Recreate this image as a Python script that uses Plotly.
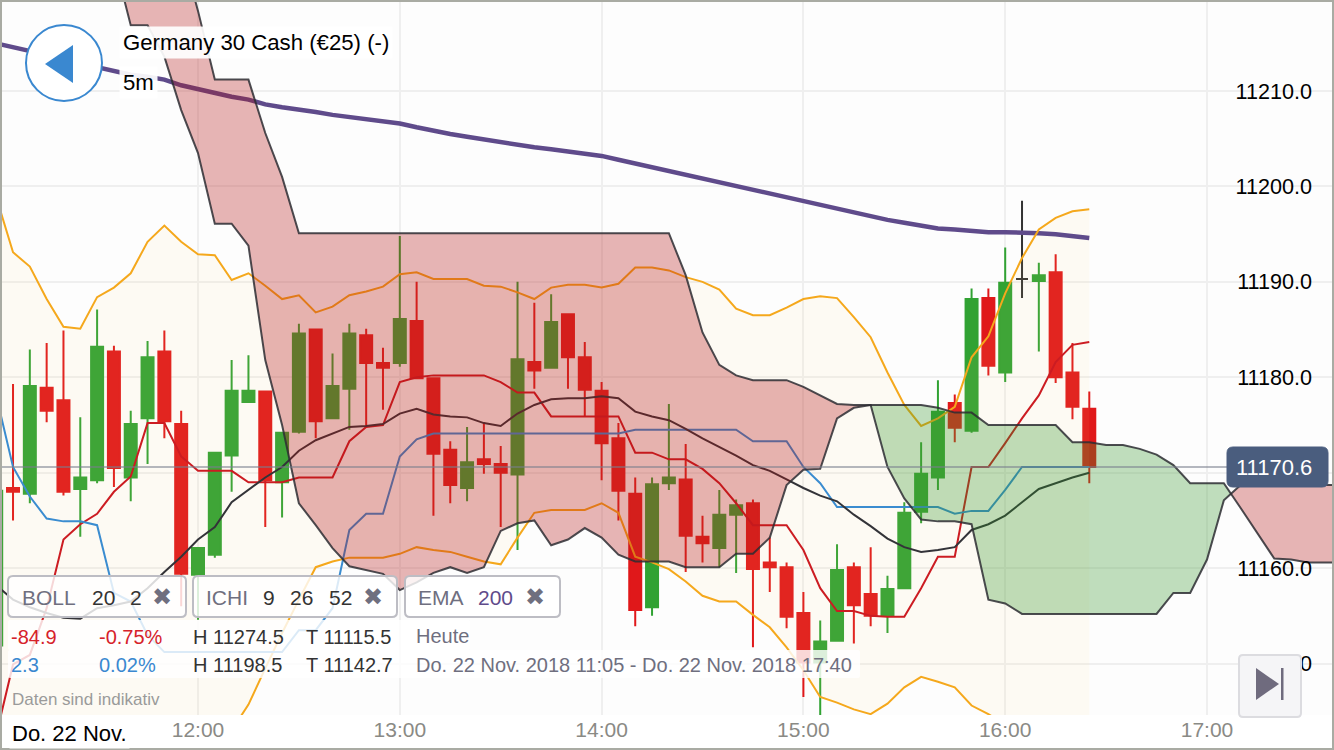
import pandas as pd
import plotly.graph_objects as go

# ---------- data ----------
first_candle_minute = 11 * 60 + 0   # 5 minute bars, first bar partly cut by the left edge
last_price = 11170.6

bar_open = [11151.9,11168.4,11167.8,11178.9,11177.6,11168.3,11169.2,11182.7,11169.5,11175.7,11182.7,11175.1,11159.3,11161.4,11171.8,11177.4,
            11178.5,11169.0,11174.3,11185.0,11175.7,11178.8,11184.4,11181.5,11181.5,11185.9,11179.9,11172.4,11168.4,11171.4,11170.9,11169.8,
            11181.6,11181.0,11186.6,11182.1,11178.6,11173.6,11167.8,11155.9,11168.9,11169.3,11163.3,11162.1,11165.6,11166.8,11160.6,11160.1,
            11155.3,11150.1,11152.4,11160.1,11157.3,11155.0,11157.9,11165.9,11169.5,11177.3,11174.4,11188.3,11180.5,11190.3,11190.1,11191.0,11180.5,11176.7]
bar_high = [11168.1,11179.3,11182.9,11183.6,11184.9,11175.8,11187.1,11183.3,11176.5,11183.8,11184.9,11176.5,11162.1,11172.1,11181.8,11182.3,
            11178.6,11174.2,11185.6,11185.0,11182.5,11185.6,11185.1,11183.1,11194.8,11190.0,11180.0,11173.3,11174.8,11175.2,11172.8,11190.0,
            11187.8,11188.7,11186.7,11183.7,11179.5,11175.2,11169.5,11169.5,11177.2,11173.0,11165.5,11168.2,11167.2,11167.2,11163.2,11160.6,
            11157.5,11154.5,11162.5,11160.6,11162.2,11159.2,11166.9,11173.2,11179.7,11178.2,11189.3,11189.3,11193.6,11198.5,11192.0,11192.9,11183.6,11178.5]
bar_low = [11151.9,11165.0,11166.8,11175.3,11167.6,11163.3,11168.9,11168.5,11167.0,11170.9,11173.6,11156.0,11154.6,11161.1,11168.0,11177.4,
           11164.3,11165.3,11174.1,11173.6,11175.7,11174.5,11174.7,11176.6,11181.1,11179.9,11165.5,11166.8,11167.0,11169.9,11164.3,11161.9,
           11178.8,11181.0,11178.8,11175.9,11169.2,11165.0,11153.9,11155.0,11168.2,11159.6,11160.6,11160.1,11159.5,11151.7,11157.5,11153.7,
           11146.5,11143.6,11152.4,11152.1,11153.9,11153.2,11157.9,11164.7,11168.2,11173.2,11174.2,11180.2,11179.5,11188.3,11182.7,11179.4,11175.6,11168.9]
bar_close = [11168.1,11168.0,11179.1,11176.5,11168.0,11169.5,11183.2,11170.5,11175.1,11182.1,11175.4,11159.4,11162.1,11172.1,11178.6,11178.6,
             11169.2,11174.2,11184.6,11175.4,11179.1,11184.6,11181.5,11181.0,11186.1,11179.9,11172.0,11168.7,11171.1,11170.9,11170.0,11181.9,
             11180.7,11185.8,11182.1,11178.7,11173.1,11168.1,11155.6,11168.8,11169.5,11163.4,11162.6,11165.6,11166.6,11159.9,11160.1,11154.9,
             11150.1,11152.3,11159.8,11156.1,11155.0,11157.8,11165.8,11169.9,11176.4,11174.7,11188.2,11181.2,11189.9,11190.3,11190.7,11180.0,11176.9,11170.6]

ema_200 = [11215.0,11214.6,11214.3,11213.9,11213.4,11212.9,11212.5,11212.1,11211.7,11211.5,11211.2,11210.6,11210.2,11209.7,11209.4,11209.1,
           11208.6,11208.3,11208.1,11207.8,11207.5,11207.3,11207.0,11206.8,11206.6,11206.2,11205.8,11205.5,11205.2,11204.9,11204.6,11204.3,
           11204.1,11203.9,11203.7,11203.5,11203.2,11202.8,11202.4,11202.0,11201.6,11201.2,11200.8,11200.5,11200.1,11199.7,11199.2,11198.8,
           11198.4,11198.0,11197.6,11197.2,11196.8,11196.5,11196.2,11195.9,11195.6,11195.5,11195.3,11195.2,11195.2,11195.2,11195.1,11195.0,11194.8,11194.6]
boll_upper = [11198.9,11193.1,11191.6,11188.2,11185.3,11185.1,11188.4,11189.4,11190.9,11194.2,11195.9,11194.2,11192.9,11192.8,11190.2,11190.9,
              11189.6,11188.2,11188.6,11186.8,11187.4,11188.6,11189.0,11189.5,11190.8,11191.0,11190.3,11190.3,11190.3,11189.6,11189.5,11188.9,
              11188.2,11189.4,11189.7,11189.7,11189.4,11189.8,11191.5,11191.5,11191.2,11190.5,11190.0,11189.2,11187.2,11186.5,11186.5,11187.3,
              11188.2,11188.5,11188.3,11186.3,11184.2,11180.5,11177.1,11174.9,11175.7,11176.9,11182.1,11184.3,11188.8,11192.5,11195.5,11196.7,11197.4,11197.6]
boll_lower = [11135.7,11136.8,11137.3,11137.8,11138.0,11138.3,11138.6,11139.0,11139.4,11139.7,11140.1,11140.4,11140.9,11141.5,11143.0,11145.7,
              11149.5,11153.2,11156.7,11160.1,11160.7,11161.1,11161.1,11161.1,11161.5,11162.2,11161.9,11161.7,11161.2,11160.7,11160.4,11163.2,
              11165.8,11166.1,11166.1,11166.1,11166.8,11165.8,11161.2,11160.6,11159.9,11158.6,11157.1,11156.5,11156.5,11155.1,11153.8,11151.7,
              11149.3,11146.5,11145.9,11145.2,11144.7,11145.8,11147.5,11148.6,11148.1,11147.5,11145.6,11144.7,11143.6,11142.2,11141.2,11140.2,11139.4,11138.6]
tenkan = [11142.5,11149.9,11150.9,11155.8,11163.0,11164.6,11165.7,11168.0,11169.6,11175.2,11175.2,11171.7,11170.2,11170.2,11170.2,11169.0,
          11169.0,11169.0,11169.5,11169.5,11169.5,11173.3,11174.8,11175.0,11179.5,11180.0,11180.2,11180.2,11180.2,11180.2,11179.5,11178.4,
          11178.4,11175.9,11175.9,11175.9,11175.9,11175.9,11172.1,11172.1,11171.4,11171.4,11170.4,11168.9,11166.8,11164.5,11164.5,11164.5,
          11161.9,11157.9,11155.5,11155.5,11155.0,11154.9,11154.9,11157.9,11161.2,11161.2,11170.6,11170.6,11173.1,11175.7,11178.1,11181.6,11183.4,11183.7]
kijun = [11178.1,11170.6,11167.5,11165.2,11164.9,11164.9,11164.5,11157.4,11156.5,11153.0,11151.2,11151.2,11151.2,11151.2,11151.2,11151.2,
         11151.2,11151.2,11153.5,11153.5,11155.8,11164.0,11165.7,11165.7,11171.7,11173.5,11174.1,11174.1,11174.1,11174.1,11174.1,11174.1,
         11174.1,11174.1,11174.1,11174.1,11174.1,11174.1,11174.5,11174.5,11174.5,11174.5,11174.5,11174.5,11174.5,11173.3,11173.3,11173.3,
         11170.6,11168.9,11166.4,11166.4,11166.4,11166.4,11166.4,11166.4,11166.4,11165.7,11166.0,11166.0,11168.2,11170.6,11170.6,11170.6,11170.6,11170.6]
chikou = [11158.2,11156.7,11155.9,11155.3,11154.8,11154.7,11155.8,11156.1,11156.5,11157.9,11159.6,11161.2,11163.0,11164.3,11166.9,11168.2,
          11169.5,11170.6,11172.3,11173.4,11174.1,11174.8,11174.9,11175.1,11176.2,11176.7,11176.1,11175.9,11175.8,11175.2,11174.9,11176.2,
          11177.1,11177.7,11177.8,11177.8,11178.0,11177.8,11176.4,11175.9,11175.5,11174.6,11173.6,11172.7,11171.8,11170.8,11170.2,11169.3,
          11168.4,11167.6,11167.0,11165.6,11164.4,11163.1,11162.2,11161.7,11161.9,11162.2,11164.0,11164.6,11165.5,11166.9,11168.3,11168.9,11169.5,11170.0]

cloud_first_minute = 11 * 60 + 35
span_a = [11223.8,11216.9,11216.9,11213.6,11208.0,11203.5,11196.1,11196.1,11193.8,11181.8,11175.0,
          11166.8,11164.5,11162.1,11160.2,11159.8,11159.4,11157.7,11158.5,11159.5,11160.1,11159.5,11160.1,
          11163.9,11164.7,11165.0,11162.4,11163.0,11164.2,11163.2,11161.4,11160.7,11160.7,11160.7,
          11160.1,11160.1,11160.1,11161.5,11161.5,11163.2,11168.7,11170.3,11170.4,11175.7,11176.8,11177.1,11177.1,11177.1,11177.1,
          11176.8,11176.3,11176.3,11175.0,11175.0,11175.0,11175.0,11175.0,11173.2,11173.2,11172.9,11172.9,11172.5,11171.9,11170.8,
          11168.9,11168.9,11168.9,11166.3,11163.6,11161.0,11160.9,11160.6,11160.6,11160.6]
span_b = [11237.4,11234.2,11231.6,11229.0,11224.8,11218.4,11211.2,11211.2,11211.2,11205.6,11201.0,
          11195.1,11195.1,11195.1,11195.1,11195.1,11195.1,11195.1,11195.1,11195.1,11195.1,11195.1,11195.1,
          11195.1,11195.1,11195.1,11195.1,11195.1,11195.1,11195.1,11195.1,11195.1,11195.1,11195.1,
          11190.7,11184.7,11181.3,11180.2,11179.7,11179.7,11179.7,11179.0,11178.1,11177.2,11177.1,11177.1,11170.6,11167.3,11165.1,
          11164.9,11164.9,11164.6,11156.7,11156.3,11155.2,11155.2,11155.2,11155.2,11155.2,11155.2,11155.2,11155.2,11155.2,11157.4,
          11157.4,11160.9,11167.1,11168.7,11168.7,11168.7,11168.7,11168.7,11168.7,11168.7]

y_ticks = [11150, 11160, 11170, 11180, 11190, 11200, 11210]
y_tick_labels = ["11150.0", "11160.0", "", "11180.0", "11190.0", "11200.0", "11210.0"]
hour_ticks = ["12:00", "13:00", "14:00", "15:00", "16:00", "17:00"]

# ---------- helpers ----------
W, H, PLOT_H = 1334, 750, 715
DAY = pd.Timestamp("2018-11-22")
def t(minute):
    return DAY + pd.Timedelta(minutes=float(minute))

bar_times = [t(first_candle_minute + 5 * i) for i in range(len(bar_open))]
cloud_min = [cloud_first_minute + 5 * i for i in range(len(span_a))]

def X(px): return px / W
def Y(py): return 1 - py / PLOT_H
def px_to_time(px): return t(720 + (px - 198) * 60 / 201.8)
def py_to_price(py): return 11219.54 - 0.1048 * py

GREEN, RED = "#31a233", "#e0181a"
DOJI = 37 + 24

fig = go.Figure()

# candles (scatter layers render on top of them)
keep = [i for i in range(len(bar_open)) if i != DOJI]
fig.add_trace(go.Candlestick(
    x=[bar_times[i] for i in keep], open=[bar_open[i] for i in keep], high=[bar_high[i] for i in keep],
    low=[bar_low[i] for i in keep], close=[bar_close[i] for i in keep],
    increasing=dict(line=dict(color=GREEN, width=2), fillcolor=GREEN),
    decreasing=dict(line=dict(color=RED, width=2), fillcolor=RED),
    showlegend=False, hoverinfo="skip"))
fig.add_trace(go.Candlestick(
    x=[bar_times[DOJI]], open=[bar_open[DOJI]], high=[bar_high[DOJI]], low=[bar_low[DOJI]], close=[bar_close[DOJI]],
    increasing=dict(line=dict(color="#333333", width=2), fillcolor="#333333"),
    decreasing=dict(line=dict(color="#333333", width=2), fillcolor="#333333"),
    showlegend=False, hoverinfo="skip"))

# bollinger band fill
fig.add_trace(go.Scatter(x=bar_times + bar_times[::-1], y=boll_upper + boll_lower[::-1], mode="none",
                         fill="toself", fillcolor="rgba(255,215,110,0.07)", showlegend=False, hoverinfo="skip"))

def line(y, color, width):
    fig.add_trace(go.Scatter(x=bar_times, y=y, mode="lines", line=dict(color=color, width=width),
                             showlegend=False, hoverinfo="skip"))

line(ema_200, "#5f4b8b", 4.5)
line(boll_upper, "#f5a81c", 2)
line(boll_lower, "#f5a81c", 2)
line(tenkan, "#cc1c22", 2)
line(kijun, "#3a8cd0", 2)
line(chikou, "#333338", 2)

# ichimoku cloud, split where the two spans cross or touch
runs, cur_m, cur_a, cur_b = [], [cloud_min[0]], [span_a[0]], [span_b[0]]
for i in range(1, len(cloud_min)):
    d0, d1 = span_a[i - 1] - span_b[i - 1], span_a[i] - span_b[i]
    if d0 * d1 < 0:
        f = d0 / (d0 - d1)
        mc = cloud_min[i - 1] + 5 * f
        pc = span_a[i - 1] + f * (span_a[i] - span_a[i - 1])
        cur_m.append(mc); cur_a.append(pc); cur_b.append(pc)
        runs.append((cur_m, cur_a, cur_b))
        cur_m, cur_a, cur_b = [mc], [pc], [pc]
    cur_m.append(cloud_min[i]); cur_a.append(span_a[i]); cur_b.append(span_b[i])
    if d1 == 0:
        runs.append((cur_m, cur_a, cur_b))
        cur_m, cur_a, cur_b = [cloud_min[i]], [span_a[i]], [span_b[i]]
runs.append((cur_m, cur_a, cur_b))
for m, a, b in runs:
    colour = "rgba(50,150,40,0.30)" if sum(a) > sum(b) else "rgba(180,20,20,0.31)"
    ts = [t(v) for v in m]
    fig.add_trace(go.Scatter(x=ts + ts[::-1], y=a + b[::-1], mode="none", fill="toself", fillcolor=colour,
                             showlegend=False, hoverinfo="skip"))
cloud_times = [t(v) for v in cloud_min]
for span in (span_a, span_b):
    fig.add_trace(go.Scatter(x=cloud_times, y=span, mode="lines", line=dict(color="rgba(45,45,50,0.85)", width=2),
                             showlegend=False, hoverinfo="skip"))

# ---------- chrome ----------
shapes, notes = [], []

def rrect(x0, y0, x1, y1, r, fill, border, width=2):
    xa, xb, ya, yb = X(x0), X(x1), Y(y0), Y(y1)
    rx, ry = r / W, r / PLOT_H
    path = (f"M {xa+rx} {ya} L {xb-rx} {ya} Q {xb} {ya} {xb} {ya-ry} L {xb} {yb+ry} Q {xb} {yb} {xb-rx} {yb} "
            f"L {xa+rx} {yb} Q {xa} {yb} {xa} {yb+ry} L {xa} {ya-ry} Q {xa} {ya} {xa+rx} {ya} Z")
    shapes.append(dict(type="path", path=path, xref="paper", yref="paper", fillcolor=fill,
                       line=dict(color=border, width=width), layer="above"))

def poly(pts, fill):
    path = "M " + " L ".join(f"{X(a)} {Y(b)}" for a, b in pts) + " Z"
    shapes.append(dict(type="path", path=path, xref="paper", yref="paper", fillcolor=fill,
                       line=dict(width=0), layer="above"))

def text(px, py, s, size=20, color="#000000", anchor="left", bg=None, family="Liberation Sans", pad=0):
    # annotations sit about a pixel right of the requested spot, plus their padding
    left = px - 1 - pad if anchor == "left" else px
    notes.append(dict(x=X(left), y=Y(py), xref="paper", yref="paper", text=s, showarrow=False, xanchor=anchor,
                      yanchor="middle", font=dict(size=size, color=color, family=family),
                      bgcolor=bg if bg else "rgba(0,0,0,0)", borderpad=pad))

# current price line
shapes.append(dict(type="line", xref="paper", yref="y", x0=0, x1=X(1228), y0=last_price, y1=last_price,
                   line=dict(color="rgba(120,125,140,0.55)", width=2), layer="above"))

# translucent panels
PANEL = "rgba(255,255,255,0.82)"
rrect(8, 576, 186, 617, 5, PANEL, "#bdbdc4")
rrect(193, 576, 397, 617, 5, PANEL, "#bdbdc4")
rrect(405, 576, 560, 617, 5, PANEL, "#bdbdc4")
rrect(8, 620, 470, 650, 2, PANEL, "rgba(0,0,0,0)", 0)
rrect(8, 650, 860, 678, 2, PANEL, "rgba(0,0,0,0)", 0)

# back button
shapes.append(dict(type="circle", xref="paper", yref="paper", x0=X(26), x1=X(102), y0=Y(25), y1=Y(101),
                   fillcolor="#ffffff", line=dict(color="#3a88d0", width=2), layer="above"))
poly([(45, 64), (73, 45), (73, 83)], "#3a88d0")

# go to end button
rrect(1239, 655, 1301, 717, 4, "#f5f5f7", "#dcdce0", 2)
poly([(1256, 668), (1279, 684), (1256, 700)], "#6f6b7e")
poly([(1281, 668), (1283.5, 668), (1283.5, 700), (1281, 700)], "#6f6b7e")

# price tag
rrect(1227, 447, 1328, 487, 6, "#4a5d7e", "#4a5d7e", 1)
text(1274, 467, f"{last_price:.1f}", 22, "#ffffff", "center")

# frame
shapes.append(dict(type="rect", xref="paper", yref="paper", x0=X(1), x1=X(W - 1), y0=Y(1), y1=Y(H - 1),
                   fillcolor="rgba(0,0,0,0)", line=dict(color="#a9aba3", width=2), layer="above"))

# headings
text(123, 42, "Germany 30 Cash (€25) (-)", 22.2, "#000000", bg="rgba(255,255,255,0.92)", pad=3)
text(123, 82, "5m", 22.2, "#000000", bg="rgba(255,255,255,0.92)", pad=3)

GREY = "#6f6f7f"
X_MARK = "✖"
text(22, 597, "BOLL", 21, GREY); text(92, 597, "20", 21, "#333333"); text(130, 597, "2", 21, "#333333")
text(162, 597, X_MARK, 24, GREY, "center", family="DejaVu Sans")
text(206, 597, "ICHI", 21, GREY); text(263, 597, "9", 21, "#333333"); text(290, 597, "26", 21, "#333333"); text(329, 597, "52", 21, "#333333")
text(373, 597, X_MARK, 24, GREY, "center", family="DejaVu Sans")
text(418, 597, "EMA", 21, GREY); text(478, 597, "200", 21, "#5f4b8b")
text(535, 597, X_MARK, 24, GREY, "center", family="DejaVu Sans")

text(11, 637, "-84.9", 20, "#d6222a"); text(99, 637, "-0.75%", 20, "#d6222a")
text(193, 637, "H 11274.5", 20, "#333333"); text(306, 637, "T 11115.5", 20, "#333333")
text(11, 665, "2.3", 20, "#3a88d0"); text(99, 665, "0.02%", 20, "#3a88d0")
text(193, 665, "H 11198.5", 20, "#333333"); text(306, 665, "T 11142.7", 20, "#333333")
text(416, 636, "Heute", 20, GREY)
text(416, 665, "Do. 22 Nov. 2018 11:05 - Do. 22 Nov. 2018 17:40", 20, GREY)
text(12, 699, "Daten sind indikativ", 17, "#9a9a9a")
text(12, 733, "Do. 22 Nov.", 22, "#000000", bg="#ffffff", pad=2)

hour_vals = [DAY + pd.Timedelta(hours=int(h[:2])) for h in hour_ticks]
fig.update_layout(
    width=W, height=H, margin=dict(l=0, r=0, t=0, b=H - PLOT_H),
    paper_bgcolor="#ffffff", plot_bgcolor="#fdfdfd",
    font=dict(family="Liberation Sans"), showlegend=False, boxgap=0.287, boxgroupgap=0, hovermode=False,
    shapes=shapes, annotations=notes,
    xaxis=dict(range=[px_to_time(0), px_to_time(W)], tickvals=hour_vals, ticktext=hour_ticks,
               tickfont=dict(size=21, color="#8a8a85"), gridcolor="#efefef", gridwidth=2, showline=False,
               zeroline=False, ticks="", rangeslider=dict(visible=False), fixedrange=True),
    yaxis=dict(range=[py_to_price(PLOT_H), py_to_price(0)], side="right", tickvals=y_ticks, ticktext=y_tick_labels,
               tickfont=dict(size=21.6, color="#000000"), ticklabelposition="inside", ticklabelstandoff=19,
               gridcolor="#efefef", gridwidth=2, showline=False, zeroline=False, ticks="", fixedrange=True),
)
fig.write_html("out.html", post_script="document.body.style.margin='0';document.body.style.overflow='hidden';",
               config=dict(displayModeBar=False))
